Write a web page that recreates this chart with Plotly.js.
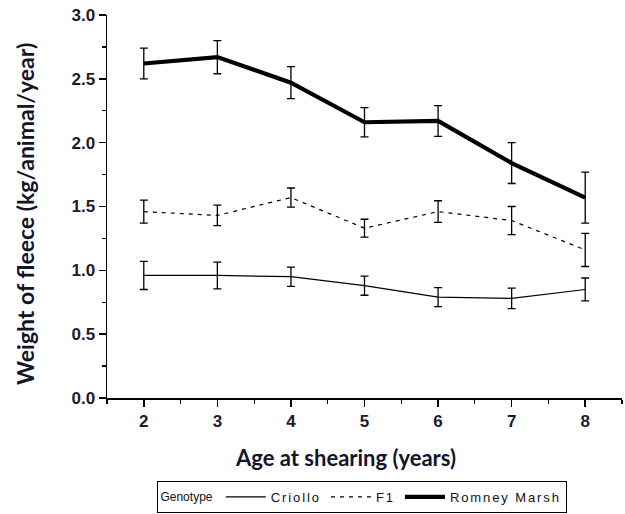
<!DOCTYPE html>
<html>
<head>
<meta charset="utf-8">
<script src="https://cdn.plot.ly/plotly-3.0.1.min.js"></script>
<style>
html,body{margin:0;padding:0;background:#fff;}
#chart{width:625px;height:514px;}
text.legendtext{letter-spacing:1.9px;}
</style>
</head>
<body>
<div id="chart"></div>
<script>
// Data
const ages = [2, 3, 4, 5, 6, 7, 8];
const criollo = [0.96, 0.96, 0.95, 0.88, 0.79, 0.78, 0.85];
const criolloErr = [0.11, 0.105, 0.075, 0.075, 0.075, 0.08, 0.09];
const f1 = [1.46, 1.43, 1.57, 1.33, 1.46, 1.39, 1.16];
const f1Err = [0.09, 0.08, 0.075, 0.07, 0.085, 0.11, 0.13];
const romney = [2.62, 2.67, 2.47, 2.16, 2.17, 1.84, 1.57];
const romneyErr = [0.12, 0.13, 0.125, 0.115, 0.12, 0.16, 0.2];
const seriesNames = ["Criollo", "F1", "Romney Marsh"];
const xTitle = 'Age at shearing (years)';
const yTitle = 'Weight of fleece (kg/animal/year)';

function errBar(arr) {
  return {type: 'data', array: arr, visible: true, color: '#000', thickness: 1.3, width: 4};
}

const traces = [
  {x: ages, y: criollo, name: seriesNames[0], type: 'scatter', mode: 'lines',
   line: {color: '#000', width: 1.2}, error_y: errBar(criolloErr)},
  {x: ages, y: f1, name: seriesNames[1], type: 'scatter', mode: 'lines',
   line: {color: '#000', width: 1.2, dash: '4px,5px'}, error_y: errBar(f1Err)},
  {x: ages, y: romney, name: seriesNames[2], type: 'scatter', mode: 'lines',
   line: {color: '#000', width: 4.2}, error_y: errBar(romneyErr)}
];

const tickFont = {family: 'Arial, "Liberation Sans", sans-serif', size: 17, color: '#1b1b2e', weight: 'bold'};
const titleFamily = 'Lato, "Open Sans", sans-serif';

const layout = {
  width: 625, height: 514,
  margin: {l: 107, r: 3, t: 15, b: 116, pad: 0, autoexpand: false},
  paper_bgcolor: '#fff', plot_bgcolor: '#fff',
  showlegend: true,
  xaxis: {
    range: [1.5, 8.5], tickmode: 'linear', tick0: 2, dtick: 1,
    showgrid: false, zeroline: false, showline: true, linecolor: '#000', linewidth: 1.5,
    ticks: 'outside', ticklen: 7, tickwidth: 1.5, tickcolor: '#000',
    minor: {dtick: 0.5, tick0: 1.5, ticks: 'outside', ticklen: 4, tickwidth: 1.2, tickcolor: '#000', showgrid: false},
    tickfont: tickFont, automargin: false
  },
  yaxis: {
    range: [0, 3.0], tickmode: 'linear', tick0: 0, dtick: 0.5, tickformat: '.1f',
    showgrid: false, zeroline: false, showline: true, linecolor: '#000', linewidth: 1.5,
    ticks: 'outside', ticklen: 7, tickwidth: 1.5, tickcolor: '#000',
    minor: {dtick: 0.25, ticks: 'outside', ticklen: 4, tickwidth: 1.2, tickcolor: '#000', showgrid: false},
    tickfont: tickFont, automargin: false
  },
  annotations: [
    {text: xTitle, xref: 'paper', yref: 'paper', x: (345 - 107) / 515, y: (398 - 458) / 383,
     xanchor: 'center', yanchor: 'middle', showarrow: false,
     font: {family: titleFamily, size: 22, color: '#14142a', weight: 'bold'}},
    {text: yTitle, xref: 'paper', yref: 'paper', x: (25 - 107) / 515, y: (398 - 214) / 383,
     xanchor: 'center', yanchor: 'middle', showarrow: false, textangle: -90,
     font: {family: titleFamily, size: 23, color: '#14142a', weight: 'bold'}}
  ],
  legend: {
    orientation: 'h', x: 0.496, xanchor: 'center', y: -0.3, yanchor: 'bottom',
    bordercolor: '#000', borderwidth: 1, bgcolor: '#fff',
    font: {family: 'Arial, "Liberation Sans", sans-serif', size: 13, color: '#111'},
    title: {text: 'Genotype', side: 'left', font: {family: 'Arial, "Liberation Sans", sans-serif', size: 12, color: '#111'}},
    itemwidth: 40, tracegroupgap: 0
  }
};

Plotly.newPlot('chart', traces, layout, {displayModeBar: false, staticPlot: true}).then(function (gd) {
  // align the legend title vertically with the legend entries
  const title = gd.querySelector('.legendtitletext');
  const item = gd.querySelector('.legendtext');
  if (title && item) {
    const tr = title.getBoundingClientRect();
    const ir = item.getBoundingClientRect();
    const d = (ir.top + ir.height / 2) - (tr.top + tr.height / 2);
    const prev = title.getAttribute('transform') || '';
    title.setAttribute('transform', prev + ' translate(0,' + d.toFixed(1) + ')');
  }
});
</script>
</body>
</html>
